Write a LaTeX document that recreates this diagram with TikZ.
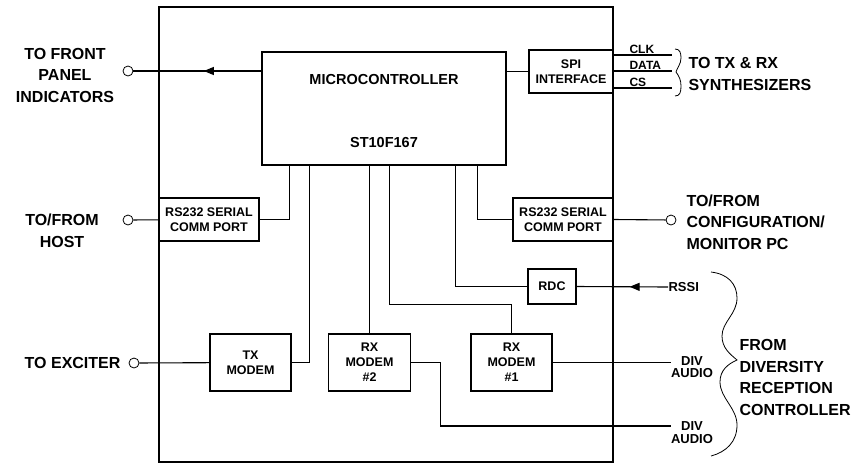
\documentclass[tikz,border=0pt]{standalone}
\usepackage{fontspec}
\setmainfont{Liberation Sans}
\usetikzlibrary{arrows.meta,decorations.markings}

\begin{document}
\begin{tikzpicture}[
    x=1pt, y=-1pt, line width=1.1pt,
    box/.style={rectangle, draw, inner sep=0pt, align=center, font=\fontsize{12.5}{15}\selectfont\bfseries},
    mctext/.style={inner sep=0pt, font=\fontsize{14.5}{16}\selectfont\bfseries},
    lbl/.style={inner sep=0pt, font=\fontsize{16}{21.5}\selectfont\bfseries},
    sig/.style={inner sep=0pt, align=center, font=\fontsize{13}{12.5}\selectfont\bfseries},
    port/.style={circle, draw, inner sep=0pt, minimum size=10pt, line width=0.8pt},
    midarrow/.style={postaction={decorate}, decoration={markings, mark=at position #1 with {\arrow{Triangle[length=10pt,width=8pt]}}}}
]
    \useasboundingbox (0,0) rectangle (861,464);

    % Enclosure
    \draw (159,7) rectangle (613,462);

    % Microcontroller
    \node[box, minimum width=244, minimum height=113] (micro) at (384,108.5) {};
    \node[mctext] (mcTitle) at (384,80) {MICROCONTROLLER};
    \node[mctext] (mcPart) at (384,143) {ST10F167};

    % Interface blocks
    \node[box, minimum width=84, minimum height=43] (spi) at (571,71.5) {SPI\\INTERFACE};
    \node[box, minimum width=100, minimum height=43] (rsL) at (209,219.5) {RS232 SERIAL\\COMM PORT};
    \node[box, minimum width=100, minimum height=43] (rsR) at (563,219.5) {RS232 SERIAL\\COMM PORT};
    \node[box, minimum width=48, minimum height=35] (rdc) at (552,286.5) {RDC};
    \node[box, minimum width=81, minimum height=57] (tx) at (250.5,362.5) {TX\\MODEM};
    \node[box, minimum width=82, minimum height=57] (rx2) at (369.5,362.5) {RX\\MODEM\\\#2};
    \node[box, minimum width=81, minimum height=57] (rx1) at (511.5,362.5) {RX\\MODEM\\\#1};

    % External ports
    \node[port] (cFront) at (128,71) {};
    \node[port] (cHost) at (128,220) {};
    \node[port] (cExc) at (134,363) {};
    \node[port] (cCfg) at (671,220) {};

    % External labels
    \node[lbl, align=center] (front) at (65,75) {TO FRONT\\PANEL\\INDICATORS};
    \node[lbl, align=center] (host) at (62,231) {TO/FROM\\HOST};
    \node[lbl, anchor=east] (exc) at (121,363) {TO EXCITER};
    \node[lbl, align=left, anchor=west] (cfg) at (686,222) {TO/FROM\\CONFIGURATION/\\MONITOR PC};
    \node[lbl, align=left, anchor=west] (synth) at (688,74) {TO TX \& RX\\SYNTHESIZERS};
    \node[lbl, align=left, anchor=west] (drc) at (739,377.5) {FROM\\DIVERSITY\\RECEPTION\\CONTROLLER};

    % Signal labels
    \coordinate (clk) at (672,55);
    \coordinate (data) at (672,71);
    \coordinate (cs) at (672,88);
    \node[sig, anchor=base west, font=\fontsize{12}{12}\selectfont\bfseries] (clkL) at (629,53) {CLK};
    \node[sig, anchor=base west, font=\fontsize{12}{12}\selectfont\bfseries] (dataL) at (629,69) {DATA};
    \node[sig, anchor=base west, font=\fontsize{12}{12}\selectfont\bfseries] (csL) at (629,86) {CS};
    \node[sig, anchor=west] (rssi) at (668,287) {RSSI};
    \node[sig] (div1) at (692,367) {DIV\\AUDIO};
    \node[sig] (div2) at (692,432.5) {DIV\\AUDIO};

    % Connectors
    \draw[midarrow=0.45] (micro.west |- cFront) -- (cFront);
    \draw (micro.east |- spi.west) -- (spi.west);
    \draw (spi.east |- clk) -- (clk);
    \draw (spi.east |- data) -- (data);
    \draw (spi.east |- cs) -- (cs);
    \draw (cHost) -- (rsL);
    \draw (rsL.east) -| ([xshift=28pt]micro.south west);
    \draw (tx.east) -| ([xshift=48pt]micro.south west);
    \draw (cExc) -- (tx);
    \draw (rx2.north) -- (rx2.north |- micro.south);
    \draw (rx2.east) -- ++(29,0) |- ([yshift=6.5pt]div2.west);
    \draw ([xshift=128pt]micro.south west) -- ++(0,139) -| (rx1.north);
    \draw (rx1.east) -- (div1.west |- rx1.east);
    \draw ([xshift=194pt]micro.south west) |- (rdc.west);
    \draw[midarrow=0.42] (rssi.west) -- (rdc.east);
    \draw ([xshift=216pt]micro.south west) |- (rsR.west);
    \draw (rsR.east) -- (cCfg);

    % Braces
    \draw[line width=0.8pt] (675,49) .. controls (680,49) and (681,53) .. (681,58)
        .. controls (681,64) and (677,68) .. (676,72)
        .. controls (679,76) and (681,80) .. (681,86)
        .. controls (681,92) and (680,96) .. (675,96);
    \draw[line width=0.8pt] (711,272) .. controls (728,274) and (737,284) .. (737,298)
        .. controls (737,314) and (722,322) .. (722,336)
        .. controls (722,348) and (730,354) .. (737,360)
        .. controls (728,364) and (720,370) .. (720,382)
        .. controls (720,398) and (737,408) .. (737,425)
        .. controls (737,442) and (726,452) .. (711,456);
\end{tikzpicture}
\end{document}
